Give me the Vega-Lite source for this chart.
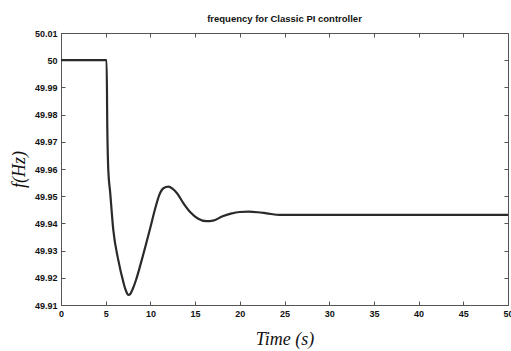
{
  "$schema": "https://vega.github.io/schema/vega-lite/v6.json",
  "width": 447,
  "height": 272,
  "autosize": {"type": "none"},
  "padding": {"left": 61, "top": 33, "right": 3, "bottom": 46},
  "background": "white",
  "title": {
    "text": "frequency for Classic PI controller",
    "font": "Liberation Sans",
    "fontSize": 9.5,
    "fontWeight": "bold",
    "color": "#111",
    "offset": 6,
    "anchor": "middle"
  },
  "config": {
    "view": {"stroke": "#555", "strokeWidth": 1},
    "axis": {
      "labelFont": "Liberation Sans",
      "labelFontSize": 9,
      "labelFontWeight": "bold",
      "labelColor": "#111",
      "tickColor": "#555",
      "domainColor": "#555",
      "tickSize": -4,
      "grid": false
    }
  },
  "data": {
    "values": [
      {"t": 0, "f": 50.0},
      {"t": 5.1, "f": 50.0},
      {"t": 5.18, "f": 49.975},
      {"t": 5.29, "f": 49.9596},
      {"t": 5.5, "f": 49.9514},
      {"t": 5.85, "f": 49.9376},
      {"t": 6.41, "f": 49.9265},
      {"t": 6.97, "f": 49.9185},
      {"t": 7.2, "f": 49.9158},
      {"t": 7.4, "f": 49.9142},
      {"t": 7.6, "f": 49.9137},
      {"t": 7.8, "f": 49.9143},
      {"t": 8.0, "f": 49.9157},
      {"t": 8.39, "f": 49.9192},
      {"t": 9.03, "f": 49.9265},
      {"t": 9.96, "f": 49.938},
      {"t": 10.5, "f": 49.945},
      {"t": 11.0, "f": 49.9505},
      {"t": 11.5, "f": 49.953},
      {"t": 12.0, "f": 49.9535},
      {"t": 12.5, "f": 49.9527},
      {"t": 13.0, "f": 49.951},
      {"t": 13.7, "f": 49.9474},
      {"t": 14.5, "f": 49.944},
      {"t": 15.3, "f": 49.9418},
      {"t": 16.3, "f": 49.9408},
      {"t": 17.0, "f": 49.941},
      {"t": 18.0, "f": 49.9425},
      {"t": 19.0, "f": 49.9436},
      {"t": 20.0, "f": 49.9442},
      {"t": 21.0, "f": 49.9443},
      {"t": 22.0, "f": 49.9441},
      {"t": 23.0, "f": 49.9437},
      {"t": 24.5, "f": 49.9431},
      {"t": 50, "f": 49.9431}
    ]
  },
  "resolve": {"scale": {"x": "independent", "y": "independent"}},
  "layer": [
    {
      "mark": {"type": "line", "color": "#2a2a2a", "strokeWidth": 2.2, "interpolate": "monotone", "clip": true},
      "encoding": {
        "x": {
          "field": "t", "type": "quantitative",
          "scale": {"domain": [0, 50], "nice": false, "zero": false},
          "axis": {
            "orient": "bottom",
            "values": [0, 5, 10, 15, 20, 25, 30, 35, 40, 45, 50],
            "title": "Time (s)",
            "titleFont": "Liberation Serif",
            "titleFontStyle": "italic",
            "titleFontWeight": "normal",
            "titleFontSize": 18,
            "titleColor": "#111",
            "titlePadding": 12,
            "labelPadding": 8,
            "labelFlush": false
          }
        },
        "y": {
          "field": "f", "type": "quantitative",
          "scale": {"domain": [49.91, 50.01], "nice": false, "zero": false},
          "axis": {
            "orient": "left",
            "values": [49.91, 49.92, 49.93, 49.94, 49.95, 49.96, 49.97, 49.98, 49.99, 50.0, 50.01],
            "format": ".2~f",
            "title": "f(Hz)",
            "titleFont": "Liberation Serif",
            "titleFontStyle": "italic",
            "titleFontWeight": "normal",
            "titleFontSize": 18,
            "titleColor": "#111",
            "titlePadding": 6,
            "labelPadding": 8,
            "labelFlush": false
          }
        }
      }
    },
    {
      "mark": {"type": "point", "opacity": 0},
      "encoding": {
        "x": {
          "field": "t", "type": "quantitative",
          "scale": {"domain": [0, 50], "nice": false, "zero": false},
          "axis": {"orient": "top", "values": [0, 5, 10, 15, 20, 25, 30, 35, 40, 45, 50], "labels": false, "title": null, "domain": false}
        },
        "y": {
          "field": "f", "type": "quantitative",
          "scale": {"domain": [49.91, 50.01], "nice": false, "zero": false},
          "axis": {"orient": "right", "values": [49.91, 49.92, 49.93, 49.94, 49.95, 49.96, 49.97, 49.98, 49.99, 50.0, 50.01], "labels": false, "title": null, "domain": false}
        }
      }
    }
  ]
}
